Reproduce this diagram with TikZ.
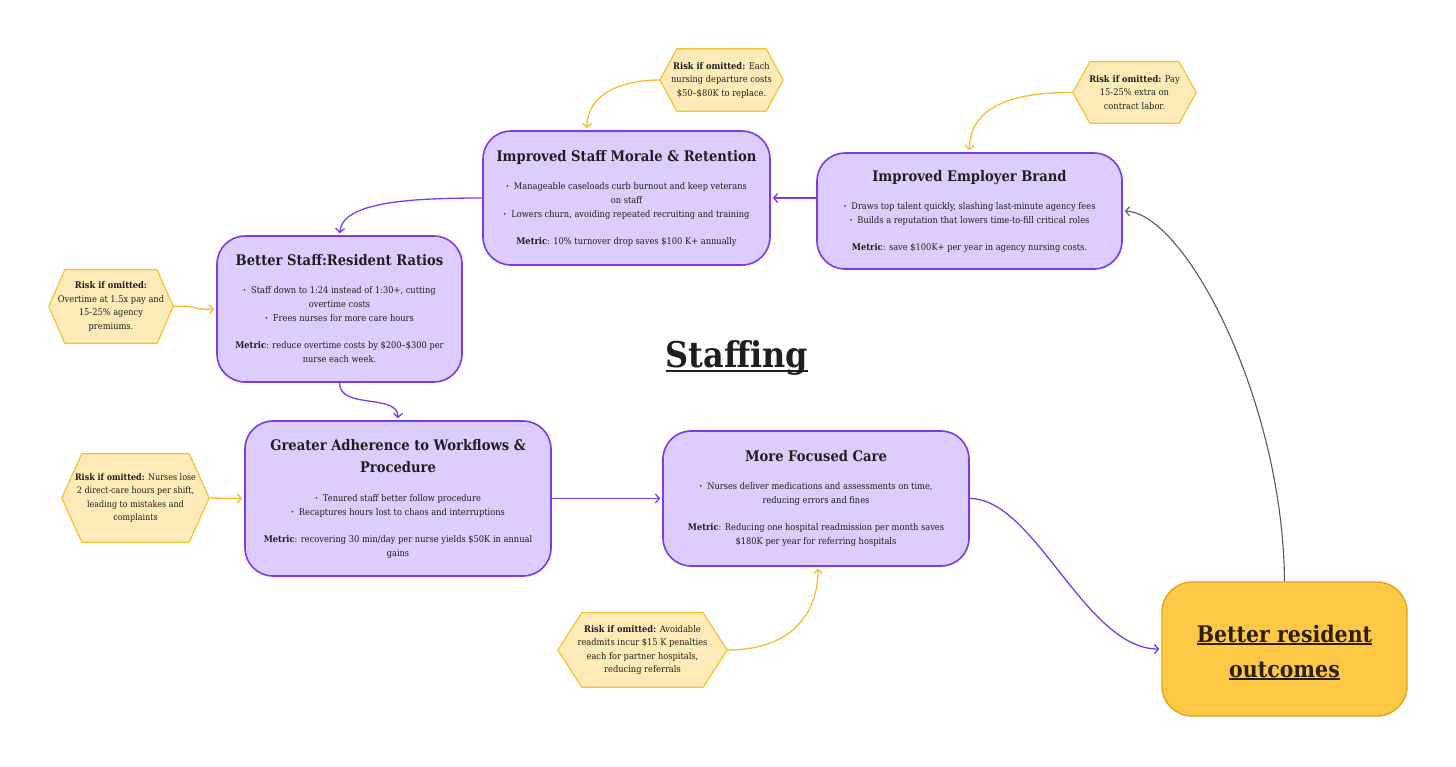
\documentclass[tikz,border=0pt]{standalone}
\usepackage{fontspec}
\setmainfont{DejaVu Serif}[FakeStretch=0.9]
\usetikzlibrary{arrows.meta,backgrounds,calc}
\definecolor{boxfill}{HTML}{DCCDFE}
\definecolor{boxline}{HTML}{7C3AED}
\definecolor{hexfill}{HTML}{FFEBB7}
\definecolor{hexline}{HTML}{F7C137}
\definecolor{yarrow}{HTML}{F8BD2C}
\definecolor{outfill}{HTML}{FFC845}
\definecolor{outborder}{HTML}{E5A21C}
\definecolor{txt}{HTML}{1F1F1F}
\definecolor{outtxt}{HTML}{2A1F0A}
\definecolor{grayarrow}{HTML}{595959}
\newcommand{\hd}[1]{{\fontsize{14.6}{22}\selectfont\bfseries #1}}
\newcommand{\bul}{\textbf{·}\hspace{5pt}}
\newcommand{\ulx}[3]{\setbox0\hbox{#1}\rlap{\raisebox{-#2}{\rule{\wd0}{#3}}}\box0}
\newcommand{\hexdraw}[2]{\path[hexshape] (#1.west) -- ([xshift=#2pt]#1.north west) -- ([xshift=-#2pt]#1.north east) -- (#1.east) -- ([xshift=-#2pt]#1.south east) -- ([xshift=#2pt]#1.south west) -- cycle;}
\tikzset{
  box/.style={draw=boxline, line width=1.6pt, fill=boxfill, rounded corners=28pt, align=center, inner sep=0pt, text=txt, font=\fontsize{9.2}{14}\selectfont},
  hextext/.style={align=center, inner sep=0pt, text=txt, font=\fontsize{9.2}{13.5}\selectfont},
  hexshape/.style={draw=hexline, line width=1.2pt, fill=hexfill, line join=round},
  conn/.style={draw=boxline, line width=1.3pt, -{Straight Barb[length=4pt,width=9pt]}, shorten >=2pt},
  yconn/.style={draw=yarrow, line width=1.3pt, -{Straight Barb[length=4pt,width=9pt]}, shorten >=2pt},
  gconn/.style={draw=grayarrow, line width=1.1pt, -{Straight Barb[length=4pt,width=9pt]}, shorten >=2pt}
}
\begin{document}
\begin{tikzpicture}[x=1pt,y=-1pt]
\useasboundingbox (0,0) rectangle (1456,766);

% main boxes
\node[box, minimum width=287pt, minimum height=134pt] (morale) at (626.5,198) {\hd{Improved Staff Morale \& Retention}\\[14pt]
\bul Manageable caseloads curb burnout and keep veterans\\
on staff\\
\bul Lowers churn, avoiding repeated recruiting and training\\[13pt]
\textbf{Metric}: 10\% turnover drop saves \$100 K+ annually};

\node[box, minimum width=305pt, minimum height=116pt] (brand) at (969.5,211) {\hd{Improved Employer Brand}\\[14pt]
\bul Draws top talent quickly, slashing last-minute agency fees\\
\bul Builds a reputation that lowers time-to-fill critical roles\\[13pt]
\textbf{Metric}: save \$100K+ per year in agency nursing costs.};

\node[box, minimum width=245pt, minimum height=146pt] (ratios) at (339.5,309) {\hd{Better Staff:Resident Ratios}\\[14pt]
\bul Staff down to 1:24 instead of 1:30+, cutting\\
overtime costs\\
\bul Frees nurses for more care hours\\[13pt]
\textbf{Metric}: reduce overtime costs by \$200–\$300 per\\
nurse each week.};

\node[box, minimum width=306pt, minimum height=155pt] (adher) at (398,498.5) {\hd{Greater Adherence to Workflows \&}\\[8pt]
\hd{Procedure}\\[15pt]
\bul Tenured staff better follow procedure\\
\bul Recaptures hours lost to chaos and interruptions\\[13pt]
\textbf{Metric}: recovering 30 min/day per nurse yields \$50K in annual\\
gains};

\node[box, minimum width=306pt, minimum height=135pt] (focused) at (816,498.5) {\hd{More Focused Care}\\[14pt]
\bul Nurses deliver medications and assessments on time,\\
reducing errors and fines\\[13pt]
\textbf{Metric}: Reducing one hospital readmission per month saves\\
\$180K per year for referring hospitals};

\node[draw=outborder, line width=1.4pt, fill=outfill, rounded corners=30pt, minimum width=245pt, minimum height=134pt, inner sep=0pt, align=center, text=outtxt, font=\fontsize{22.8}{35}\selectfont\bfseries] (outcomes) at (1284.5,649) {\rule{0pt}{24pt}\ulx{Better resident}{3pt}{1.8pt}\\\ulx{outcomes}{3pt}{1.8pt}};

% title
\node[anchor=base, inner sep=0pt, text=txt, font=\fontsize{35.5}{40}\selectfont\bfseries] (title) at (737,367) {\ulx{Staffing}{5pt}{2.2pt}};

% risk hexagon texts
\node[hextext, minimum width=123pt, minimum height=62pt] (ha) at (721.5,80) {\textbf{Risk if omitted:} Each\\nursing departure costs\\\$50–\$80K to replace.};
\node[hextext, minimum width=123pt, minimum height=61pt] (hb) at (1134.5,92.5) {\textbf{Risk if omitted:} Pay\\15-25\% extra on\\contract labor.};
\node[hextext, minimum width=124pt, minimum height=73pt] (hc) at (111,306.5) {\textbf{Risk if omitted:}\\Overtime at 1.5x pay and\\15-25\% agency\\premiums.};
\node[hextext, minimum width=147pt, minimum height=88pt, font=\fontsize{8.9}{13.5}\selectfont] (hd) at (135.5,498) {\textbf{Risk if omitted:} Nurses lose\\2 direct-care hours per shift,\\leading to mistakes and\\complaints};
\node[hextext, minimum width=169pt, minimum height=74pt] (he) at (642.5,650) {\textbf{Risk if omitted:} Avoidable\\readmits incur \$15 K penalties\\each for partner hospitals,\\reducing referrals};

\begin{pgfonlayer}{background}
\hexdraw{ha}{17}
\hexdraw{hb}{17}
\hexdraw{hc}{16}
\hexdraw{hd}{20}
\hexdraw{he}{24}
\end{pgfonlayer}

% risk connectors
\draw[yconn] (ha.west) .. controls (625,80) and (587,92) .. ([xshift=-39.5pt]morale.north);
\draw[yconn] (hb.west) .. controls (1010,92) and (969.5,108) .. (brand.north);
\draw[yconn] (hc.east) .. controls (200,305) and (190,310) .. (ratios.west);
\draw[yconn] (hd.east) -- (adher.west);
\draw[yconn] (he.east) .. controls (790,650) and (818,615) .. ([xshift=2pt]focused.south);

% flow connectors
\draw[conn] ([yshift=13pt]brand.west) -- (morale.east);
\draw[conn] (morale.west) .. controls (410,198) and (342,202) .. (ratios.north);
\draw[conn] (ratios.south) .. controls (339.5,410) and (398,393) .. (adher.north);
\draw[conn] (adher.east) -- (focused.west);
\draw[conn] (focused.east) .. controls (1035,498.5) and (1085,649) .. (outcomes.west);
\draw[gconn] (outcomes.north) .. controls (1283,400) and (1185,213) .. (brand.east);
\end{tikzpicture}
\end{document}
